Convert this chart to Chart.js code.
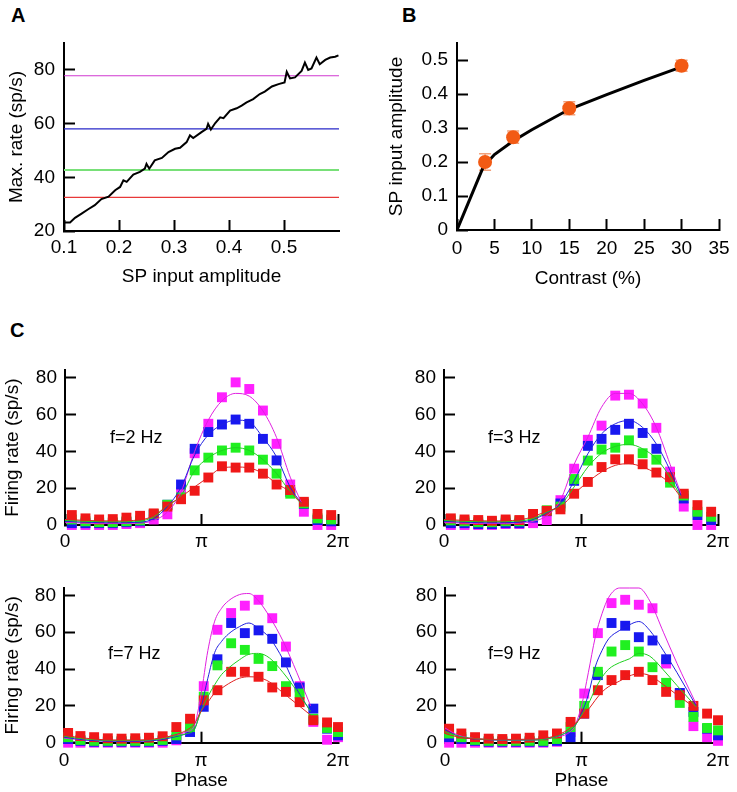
<!DOCTYPE html>
<html>
<head>
<meta charset="utf-8">
<script src="https://cdn.jsdelivr.net/npm/chart.js@4.4.0/dist/chart.umd.min.js"></script>
<style>
  body { margin: 0; background: #fff; width: 737px; height: 792px; position: relative; overflow: hidden;
         font-family: "Liberation Sans", Arial, sans-serif; color: #000; }
  .box { position: absolute; }
  .panel { position: absolute; font-weight: bold; font-size: 20px; line-height: 20px; }
  .freq { position: absolute; font-size: 18px; line-height: 18px; }
</style>
</head>
<body>
<div class="panel" style="left:11px;top:5px">A</div>
<div class="panel" style="left:402px;top:5px">B</div>
<div class="panel" style="left:10px;top:320px">C</div>

<canvas class="box" id="chartA" width="370" height="300" style="left:0;top:0"></canvas>
<canvas class="box" id="chartB" width="367" height="300" style="left:370px;top:0"></canvas>
<canvas class="box" id="chartC1" width="370" height="225" style="left:0;top:330px"></canvas>
<canvas class="box" id="chartC2" width="367" height="225" style="left:370px;top:330px"></canvas>
<canvas class="box" id="chartC3" width="370" height="237" style="left:0;top:555px"></canvas>
<canvas class="box" id="chartC4" width="367" height="237" style="left:370px;top:555px"></canvas>

<div class="freq" style="left:110px;top:428px">f=2 Hz</div>
<div class="freq" style="left:488px;top:428px">f=3 Hz</div>
<div class="freq" style="left:108px;top:644px">f=7 Hz</div>
<div class="freq" style="left:488px;top:644px">f=9 Hz</div>

<script>
// ---- panel A: max rate vs SP input amplitude
const ampX = [0.1, 0.111, 0.12, 0.132, 0.144, 0.156, 0.168, 0.181, 0.193, 0.202, 0.208, 0.214, 0.226, 0.238,
  0.247, 0.25, 0.255, 0.265, 0.278, 0.29, 0.302, 0.311, 0.323, 0.329, 0.335, 0.35, 0.359, 0.362, 0.367,
  0.375, 0.384, 0.39, 0.402, 0.414, 0.423, 0.432, 0.444, 0.456, 0.465, 0.478, 0.49, 0.501, 0.505, 0.511,
  0.52, 0.532, 0.538, 0.544, 0.55, 0.559, 0.565, 0.575, 0.584, 0.593, 0.599];
const maxRate = [23.2, 23.2, 24.9, 26.5, 28.1, 29.6, 31.9, 32.8, 35.2, 36.4, 38.9, 38.3, 41, 42,
  43.2, 45, 43.2, 46.3, 47.2, 49.4, 50.6, 51, 53.1, 55.6, 54.6, 56.8, 58, 59.9, 57.8,
  60.2, 62.3, 62, 64.8, 65.7, 66.7, 67.9, 69.1, 71, 71.9, 73.8, 74.7, 75.3, 79.3, 76.8,
  77.2, 79.6, 82.7, 80, 80.5, 84.6, 82.1, 83.7, 84.6, 84.9, 85.4];
// peak rates at f=2 Hz: red, green, blue, magenta
const peakRates = [32.5, 42.7, 58, 77.8];
const ampTicks = [0.1, 0.2, 0.3, 0.4, 0.5];
const rateTicks = [20, 40, 60, 80];

// ---- panel B: SP input amplitude vs contrast
const contrast = [3.75, 7.5, 15, 30];
const spAmp = [0.2, 0.273, 0.358, 0.483];
const spAmpErr = [0.024, 0.018, 0.019, 0.016];
const fitContrast = [0, 3.5, 5, 7.5, 10, 15, 20, 25, 30];
const fitAmp = [0, 0.185, 0.222, 0.262, 0.295, 0.355, 0.398, 0.44, 0.48];
const contrastTicks = [0, 5, 10, 15, 20, 25, 30, 35];
const spAmpTicks = [0, 0.1, 0.2, 0.3, 0.4, 0.5];

// ---- panel C: firing rate vs phase (phase in units of pi)
const phaseA = [0.05, 0.15, 0.25, 0.35, 0.45, 0.55, 0.65, 0.75, 0.85, 0.95, 1.05, 1.15, 1.25, 1.35, 1.45, 1.55, 1.65, 1.75, 1.85, 1.95];
const phaseB = [0.03, 0.12, 0.22, 0.32, 0.42, 0.52, 0.62, 0.72, 0.82, 0.92, 1.02, 1.12, 1.22, 1.32, 1.42, 1.52, 1.62, 1.72, 1.82, 1.92, 2.0];
const phaseTicks = [0, 1, 2];
const phaseLabels = ["0", "π", "2π"];
const fireTicks = [0, 20, 40, 60, 80];

// f = 2 Hz (red, green, blue, magenta)
const f2Red = [5.4, 3.6, 3, 3.2, 4, 5, 6.3, 10, 14, 18.6, 25.8, 31.9, 31.2, 31.2, 27.9, 22, 19, 12.6, 6, 5.4];
const f2Green = [3, 2, 1.5, 1.5, 2, 2.5, 6, 11, 15, 29.7, 36.6, 40.5, 42, 40.5, 35.5, 27.9, 17, 11.7, 3.6, 3];
const f2Blue = [1, 1, 1, 1, 1.5, 2, 5.5, 11, 22, 41.4, 50.5, 54.6, 57.3, 55, 46.8, 35.1, 18, 11.4, 2.7, 2];
const f2Mag = [0, 0, 0, 0, 0.5, 1, 3, 5.8, 18, 39, 55, 69.4, 77.5, 73.9, 62.2, 44.1, 22, 7.2, 0, 0];
// f = 3 Hz
const f3Red = [3.6, 3, 2.7, 2.3, 3, 2.7, 6, 7.7, 8.5, 17, 23.4, 31.5, 35.7, 35.7, 33, 28.5, 26, 17, 10.8, 7.2];
const f3Green = [2.5, 2, 1.5, 1.5, 2, 2, 5, 8, 10, 25, 35, 41, 42, 46, 39, 35.5, 23, 16, 7.2, 4.5];
const f3Blue = [1, 1, 0.5, 0.5, 1, 1, 4, 7.5, 11.7, 24, 43, 46.8, 51.7, 55, 50, 41.4, 25, 14.4, 5.4, 2.7];
const f3Mag = [0, 0, 0, 0, 0.5, 0.5, 1, 2.7, 13.5, 30.6, 46.3, 54, 70.3, 70.8, 66, 52.8, 29, 10, 0, 0];
// f = 7 Hz
const f7Red = [5.3, 3.6, 3, 2.4, 2.2, 2.4, 2.7, 3.5, 8.5, 13, 23, 28.5, 38.5, 38.5, 35.8, 30, 27.6, 22, 12.2, 11, 8.5];
const f7Green = [3, 1.5, 1, 1, 1, 1, 1, 1.5, 4, 8.5, 25, 42, 54, 50.4, 45.5, 41.6, 30.7, 26.7, 13, 8, 5.8];
const f7Blue = [2, 1, 0.5, 0.5, 0.5, 0.5, 0.5, 1, 2, 5.8, 19.5, 45.3, 65, 59.5, 61, 56.4, 43.6, 30, 18.5, 7.6, 4];
const f7Mag = [0, 0, 0, 0, 0, 0, 0, 0, 1.3, 8.5, 30.7, 61.3, 70.4, 74.4, 77.6, 67.6, 52.2, 30.7, 11.3, 1.6, 3];
// f = 9 Hz
const f9Red = [7.6, 5, 3, 2.2, 2, 2.2, 2.7, 4, 5, 11.3, 15.8, 28.5, 34, 36.7, 38.5, 34, 27.6, 25.8, 20, 15.8, 12.2];
const f9Green = [5, 3, 1.5, 1, 1, 1, 1, 1, 2, 8.5, 20, 38.5, 49.5, 53, 49.5, 41, 32.5, 21.6, 14, 8, 6.7];
const f9Blue = [3, 2, 1, 0.5, 0.5, 0.5, 0.5, 0.5, 1, 3, 15.8, 36.7, 65, 63.5, 57.3, 55.5, 45.3, 27, 16.7, 7.6, 4];
const f9Mag = [0, 0, 0, 0, 0, 0, 0, 0, 0.5, 5.8, 26.7, 59.5, 75.8, 77.6, 74.9, 73, 43, 26.7, 9, 3, 1];

// model curves
const curvePhaseA = [0, 0.15, 0.35, 0.55, 0.65, 0.75, 0.85, 0.95, 1.05, 1.15, 1.25, 1.35, 1.45, 1.55, 1.65, 1.73];
const f2CurveRed = [3, 2.5, 2.2, 2.8, 5, 10.5, 15.3, 20.7, 26, 31, 31.5, 31, 28, 22.5, 18, 12];
const f2CurveGreen = [2.5, 2, 1.8, 2.2, 4.5, 10.5, 16, 29.5, 36.5, 40.5, 42, 40.5, 35.5, 28, 18, 11.7];
const f2CurveBlue = [2, 1.5, 1.2, 1.5, 3.5, 10, 20.5, 38, 49, 54.5, 57, 56, 47.5, 37, 20.5, 12];
const f2CurveMag = [1.5, 1, 0.8, 1, 2.5, 7, 18, 40, 57, 67.5, 71.5, 70, 62, 47.5, 26, 12.5];
const f3CurveRed = [3, 2.5, 2.2, 2.8, 4.5, 7.5, 10, 17, 23.4, 28.8, 32.4, 33.3, 31.5, 28, 22.5, 15];
const f3CurveGreen = [2.5, 2, 1.8, 2.2, 3.5, 7, 10.8, 20.7, 31.5, 39, 42.7, 43.8, 41.4, 36, 26, 15];
const f3CurveBlue = [2, 1.5, 1.2, 1.5, 3, 6.5, 11.7, 24, 38.7, 49.5, 55, 56.8, 53, 44, 29.7, 16];
const f3CurveMag = [1.5, 1, 0.8, 1, 2, 5, 13.5, 33, 47.7, 64, 71.5, 71.5, 65.8, 53, 33, 17];

const curvePhaseB = [0, 0.15, 0.35, 0.55, 0.7, 0.8, 0.9, 0.95, 1.0, 1.05, 1.1, 1.15, 1.2, 1.28, 1.35, 1.42, 1.5, 1.6, 1.7, 1.8];
const f7CurveRed = [4, 2.5, 1.5, 1.5, 2.5, 4, 7, 10, 17, 22, 27, 29.5, 32, 35, 35.8, 35.4, 33, 27, 21, 15];
const f7CurveGreen = [3.5, 2, 1.2, 1.2, 2, 3.5, 5, 7, 17, 25, 31.5, 37, 40.5, 45, 48, 48.5, 46, 38, 28, 17];
const f7CurveBlue = [3, 1.5, 0.8, 0.8, 1.5, 3, 5, 7, 19, 35, 49, 55, 59, 63, 65, 62, 57, 45, 29, 17];
const f7CurveMag = [2.5, 1.5, 1, 1, 2, 4, 6, 9, 26, 50, 66, 73, 77, 80.4, 81, 77, 68.5, 55, 38, 20];

const curvePhaseC = [0, 0.1, 0.25, 0.45, 0.65, 0.8, 0.9, 0.95, 1.0, 1.05, 1.1, 1.15, 1.2, 1.28, 1.35, 1.42, 1.5, 1.6, 1.7, 1.84];
const f9CurveRed = [5, 3, 2, 1.8, 2, 3.5, 7, 10, 14, 18, 23, 27.5, 30.5, 33.5, 36.2, 37.5, 36.5, 31.5, 26, 18.5];
const f9CurveGreen = [6, 3.5, 2, 1.5, 1.5, 3, 6, 9, 15, 21, 29, 35.5, 40, 43.5, 45.5, 48.5, 47, 39.5, 31, 19.5];
const f9CurveBlue = [7, 3.5, 1.8, 1.5, 1.5, 3, 6, 9, 16, 26, 41, 50, 56.5, 61, 64, 65.8, 61, 50, 38, 20];
const f9CurveMag = [8, 4, 2, 1.5, 1.5, 3, 5, 9, 20, 38, 57, 70, 79, 84, 84, 84, 77, 60, 43, 21];

const squareColors = ["#f01818", "#20f020", "#1818f0", "#ff20ff"];
const curveColors = ["#e02020", "#20d020", "#2020e0", "#e020e0"];
const levelColors = ["#e83838", "#78e078", "#2828c8", "#d038d0"];

Chart.defaults.font.family = '"Liberation Sans", Arial, sans-serif';
Chart.defaults.font.size = 19;
Chart.defaults.color = "#000";

const TICK_LEN = 11;

const errorBars = {
  id: "errorBars",
  beforeDatasetsDraw: function (chart) {
    const { ctx, scales: { x, y } } = chart;
    const cap = 6;
    ctx.save();
    ctx.strokeStyle = "#f2a07a";
    ctx.lineWidth = 1.5;
    contrast.forEach(function (c, i) {
      const px = x.getPixelForValue(c);
      const top = y.getPixelForValue(spAmp[i] + spAmpErr[i]);
      const bot = y.getPixelForValue(spAmp[i] - spAmpErr[i]);
      ctx.beginPath();
      ctx.moveTo(px, top); ctx.lineTo(px, bot);
      ctx.moveTo(px - cap, top); ctx.lineTo(px + cap, top);
      ctx.moveTo(px - cap, bot); ctx.lineTo(px + cap, bot);
      ctx.stroke();
    });
    ctx.restore();
  }
};

// negative tickLength -> Chart.js draws its tick marks inside the plot
function axis(o) {
  return {
    type: "linear",
    min: o.min,
    max: o.max,
    grid: { display: true, drawOnChartArea: false, tickLength: -TICK_LEN, tickColor: "#000", tickWidth: 2 },
    border: { display: true, color: "#000", width: 2 },
    ticks: {
      color: "#000",
      padding: o.pad + TICK_LEN,
      autoSkip: false,
      maxRotation: 0,
      callback: o.labels ? function (v, i) { return o.labels[i]; } : function (v) { return String(v); }
    },
    title: { display: !!o.title, text: o.title || "", color: "#000", padding: o.titlePad || 0 },
    afterBuildTicks: function (s) { s.ticks = o.ticks.map(function (v) { return { value: v }; }); },
    afterFit: function (s) {
      if (s.isHorizontal()) s.height = o.size; else s.width = o.size;
      s.paddingLeft = s.paddingRight = s.paddingTop = s.paddingBottom = 0;
    }
  };
}

function baseOptions(pad, xAxis, yAxis) {
  return {
    responsive: false,
    animation: false,
    layout: { padding: pad },
    plugins: { legend: { display: false }, tooltip: { enabled: false } },
    scales: { x: xAxis, y: yAxis }
  };
}

function pts(xs, ys) {
  return xs.map(function (v, i) { return { x: v, y: ys[i] }; });
}

// ---- A
const datasetsA = [{
  data: pts(ampX, maxRate), showLine: true, borderColor: "#000", borderWidth: 2,
  pointRadius: 0, tension: 0, order: 0
}];
peakRates.forEach(function (r, i) {
  datasetsA.push({
    data: [{ x: 0.1, y: r }, { x: 0.6, y: r }], showLine: true, borderColor: levelColors[i],
    borderWidth: i === 1 ? 2 : 1.2, pointRadius: 0, order: 1
  });
});
new Chart(document.getElementById("chartA"), {
  type: "scatter",
  data: { datasets: datasetsA },
  options: baseOptions({ top: 43, right: 31 },
    axis({ min: 0.1, max: 0.6, ticks: ampTicks, pad: 5, size: 69, title: "SP input amplitude", titlePad: { top: 0, bottom: 12 } }),
    axis({ min: 20, max: 90, ticks: rateTicks, pad: 9, size: 64, title: "Max. rate (sp/s)", titlePad: { top: 5, bottom: 0 } }))
});

// ---- B
new Chart(document.getElementById("chartB"), {
  type: "scatter",
  data: {
    datasets: [
      { data: pts(contrast, spAmp), pointRadius: 7, pointBackgroundColor: "#f25a14", pointBorderWidth: 0, order: 0 },
      { data: pts(fitContrast, fitAmp), showLine: true, borderColor: "#000", borderWidth: 3, pointRadius: 0, order: 1 }
    ]
  },
  options: baseOptions({ top: 43, right: 18 },
    axis({ min: 0, max: 35, ticks: contrastTicks, pad: 7, size: 70, title: "Contrast (%)", titlePad: { top: 0, bottom: 10 } }),
    axis({ min: 0, max: 0.55, ticks: spAmpTicks, pad: 9, size: 87, title: "SP input amplitude", titlePad: { top: 15, bottom: 0 } })),
  plugins: [errorBars]
});

// ---- C
function phaseChart(id, o) {
  const datasets = [];
  o.curves.forEach(function (c, i) {
    datasets.push({
      data: pts(o.curvePhase, c), showLine: true, borderColor: curveColors[i], borderWidth: 1,
      pointRadius: 0, cubicInterpolationMode: "monotone", clip: false, order: 0
    });
  });
  o.squares.forEach(function (s, i) {
    datasets.push({
      data: pts(o.phase, s), pointStyle: "rect", pointRadius: 7, pointBorderWidth: 0,
      pointBackgroundColor: squareColors[i], clip: false, order: i + 1
    });
  });
  new Chart(document.getElementById(id), {
    type: "scatter",
    data: { datasets: datasets },
    options: baseOptions({ top: o.top, right: o.right },
      axis({ min: 0, max: 2, ticks: phaseTicks, labels: phaseLabels, pad: o.xPad, size: o.xSize,
             title: o.xTitle, titlePad: { top: 0, bottom: 0 } }),
      axis({ min: 0, max: 84, ticks: fireTicks, pad: 8, size: o.ySize,
             title: o.yTitle, titlePad: { top: 1, bottom: 0 } }))
  });
}

phaseChart("chartC1", {
  phase: phaseA, squares: [f2Red, f2Green, f2Blue, f2Mag],
  curvePhase: curvePhaseA, curves: [f2CurveRed, f2CurveGreen, f2CurveBlue, f2CurveMag],
  top: 40.4, right: 32, ySize: 65, xSize: 30, xPad: 5, yTitle: "Firing rate (sp/s)"
});
phaseChart("chartC2", {
  phase: phaseA, squares: [f3Red, f3Green, f3Blue, f3Mag],
  curvePhase: curvePhaseA, curves: [f3CurveRed, f3CurveGreen, f3CurveBlue, f3CurveMag],
  top: 40.4, right: 19, ySize: 74, xSize: 30, xPad: 5
});
phaseChart("chartC3", {
  phase: phaseB, squares: [f7Red, f7Green, f7Blue, f7Mag],
  curvePhase: curvePhaseB, curves: [f7CurveRed, f7CurveGreen, f7CurveBlue, f7CurveMag],
  top: 33, right: 32, ySize: 64, xSize: 49.3, xPad: 7, yTitle: "Firing rate (sp/s)", xTitle: "Phase"
});
phaseChart("chartC4", {
  phase: phaseB, squares: [f9Red, f9Green, f9Blue, f9Mag],
  curvePhase: curvePhaseC, curves: [f9CurveRed, f9CurveGreen, f9CurveBlue, f9CurveMag],
  top: 33, right: 19, ySize: 75, xSize: 49.3, xPad: 7, xTitle: "Phase"
});
</script>
</body>
</html>
